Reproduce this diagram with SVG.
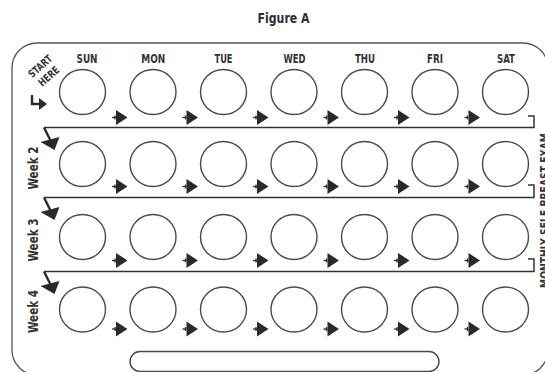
<svg xmlns="http://www.w3.org/2000/svg" width="545" height="372" viewBox="0 0 545 372">
<defs>
<style>
.lbl{font-family:"Liberation Sans Narrow","DejaVu Sans Condensed","Liberation Sans",sans-serif;font-weight:bold;fill:#333;text-anchor:middle}
.day{font-size:12px}
.pill{fill:none;stroke:#4a4a4a;stroke-width:1.4}
.frame{fill:none;stroke:#555;stroke-width:1.3}
.sep{fill:none;stroke:#333;stroke-width:1.5}
.arr{fill:#2a2a2a}
.stub{stroke:#2a2a2a;stroke-width:1.3}
</style>
<g id="nextArrow">
<line class="stub" x1="112" y1="0" x2="116" y2="0"/>
<line class="stub" x1="115" y1="-2" x2="115" y2="2"/>
<polygon class="arr" points="116,-7.5 116,7.5 127.5,0"/>
</g>
<g id="weekArrow">
<line x1="44" y1="0" x2="50.5" y2="13" stroke="#2a2a2a" stroke-width="2.4"/>
<polygon class="arr" points="40.5,14.5 59.5,9.5 54.5,22.5"/>
</g>
<g id="row">
<ellipse class="pill" cx="82.5" cy="0" rx="23" ry="22.5"/>
<ellipse class="pill" cx="153" cy="0" rx="23" ry="22.5"/>
<ellipse class="pill" cx="223.5" cy="0" rx="23" ry="22.5"/>
<ellipse class="pill" cx="294" cy="0" rx="23" ry="22.5"/>
<ellipse class="pill" cx="364.5" cy="0" rx="23" ry="22.5"/>
<ellipse class="pill" cx="435" cy="0" rx="23" ry="22.5"/>
<ellipse class="pill" cx="505.5" cy="0" rx="23" ry="22.5"/>
</g>
<g id="arrowRow">
<use href="#nextArrow" x="0"/>
<use href="#nextArrow" x="70.5"/>
<use href="#nextArrow" x="141"/>
<use href="#nextArrow" x="211.5"/>
<use href="#nextArrow" x="282"/>
<use href="#nextArrow" x="352.5"/>
</g>
</defs>
<rect width="545" height="372" fill="#fff"/>
<text class="lbl" x="283.5" y="22.5" font-size="14" textLength="52" lengthAdjust="spacingAndGlyphs" style="fill:#2e2e3a">Figure A</text>
<path id="card" class="frame" d="M12,68 A25,25 0 0 1 37,43 L523,43 A25,25 0 0 1 548,68 L548,350 A25,25 0 0 1 523,375 L37,375 A25,25 0 0 1 12,350 Z"/>
<g id="dayLabels">
<text class="lbl day" x="87" y="62.5" textLength="21" lengthAdjust="spacingAndGlyphs">SUN</text>
<text class="lbl day" x="153.3" y="62.5" textLength="24" lengthAdjust="spacingAndGlyphs">MON</text>
<text class="lbl day" x="223.5" y="62.5" textLength="18" lengthAdjust="spacingAndGlyphs">TUE</text>
<text class="lbl day" x="294.5" y="62.5" textLength="22" lengthAdjust="spacingAndGlyphs">WED</text>
<text class="lbl day" x="365" y="62.5" textLength="20" lengthAdjust="spacingAndGlyphs">THU</text>
<text class="lbl day" x="435" y="62.5" textLength="16" lengthAdjust="spacingAndGlyphs">FRI</text>
<text class="lbl day" x="506" y="62.5" textLength="18" lengthAdjust="spacingAndGlyphs">SAT</text>
</g>
<g id="start">
<text class="lbl" font-size="10.5" transform="translate(40,66) rotate(-42)" y="4" textLength="28" lengthAdjust="spacingAndGlyphs">START</text>
<text class="lbl" font-size="10.5" transform="translate(48.5,76) rotate(-42)" y="4" textLength="24" lengthAdjust="spacingAndGlyphs">HERE</text>
<path d="M32,95 L32,104 L40,104" fill="none" stroke="#2a2a2a" stroke-width="2.4"/>
<polygon class="arr" points="39,98 39,110 47,104"/>
</g>
<g id="weekLabels">
<text class="lbl" font-size="14" transform="translate(37.5,168) rotate(-90)" textLength="43" lengthAdjust="spacingAndGlyphs">Week 2</text>
<text class="lbl" font-size="14" transform="translate(37.5,240) rotate(-90)" textLength="43" lengthAdjust="spacingAndGlyphs">Week 3</text>
<text class="lbl" font-size="14" transform="translate(37.5,311.5) rotate(-90)" textLength="43" lengthAdjust="spacingAndGlyphs">Week 4</text>
</g>
<g id="week1"><use href="#row" y="92"/></g>
<g id="week2"><use href="#row" y="164"/></g>
<g id="week3"><use href="#row" y="237"/></g>
<g id="week4"><use href="#row" y="309.5"/></g>
<g id="connectors">
<use href="#arrowRow" y="117.5"/>
<use href="#arrowRow" y="186.5"/>
<use href="#arrowRow" y="260.5"/>
<use href="#arrowRow" y="329"/>
<path class="sep" d="M528,116 L534,116 L534,127.5 L44,127.5"/>
<path class="sep" d="M528,185 L534,185 L534,197.5 L44,197.5"/>
<path class="sep" d="M528,259 L534,259 L534,271.5 L44,271.5"/>
<use href="#weekArrow" y="127.5"/>
<use href="#weekArrow" y="197.5"/>
<use href="#weekArrow" y="271.5"/>
</g>
<rect id="tray" class="pill" x="130" y="351.5" width="309" height="20" rx="10"/>
<text class="lbl" font-size="12" transform="translate(549,210.5) rotate(-90)" textLength="155" lengthAdjust="spacingAndGlyphs">MONTHLY SELF BREAST EXAM</text>
</svg>
